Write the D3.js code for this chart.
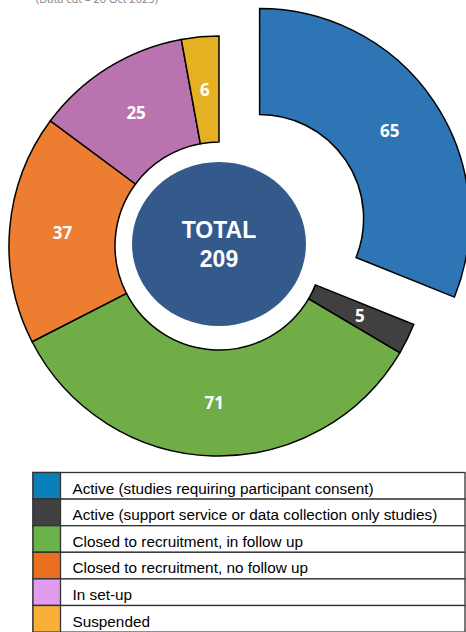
<!DOCTYPE html>
<html>
<head>
<meta charset="utf-8">
<script src="https://cdn.jsdelivr.net/npm/d3@7"></script>
<style>
  body { margin: 0; background: #fff; }
  svg { display: block; }
</style>
</head>
<body>
<script>
let categories = [
    'Active (studies requiring participant consent)',
    'Active (support service or data collection only studies)',
    'Closed to recruitment, in follow up',
    'Closed to recruitment, no follow up',
    'In set-up',
    'Suspended'
];
let values = [65, 5, 71, 37, 25, 6];
let sliceColors = ['#2E75B6', '#404040', '#70AD47', '#ED7D31', '#B973AE', '#E6B023'];
let legendColors = ['#0B7FBA', '#404040', '#6CB24A', '#E96F1F', '#E09DF0', '#FAAF3B'];
let subtitle = '(Data cut \u2013 20 Oct 2025)';
let centerLabel = ['TOTAL', '209'];

let w = 466;
let h = 632;
let cx = 219, cy = 246;
let innerR = 104, outerR = 210;
let explode = 49;

let svg = d3.select('body')
    .append('svg')
    .attr('width', w)
    .attr('height', h)

// subtitle sits half above the top edge, like the cropped original
svg.append('text')
    .text(subtitle)
    .attr('x', 97)
    .attr('y', 3)
    .style('text-anchor', 'middle')
    .style('font-family', 'Open Sans, sans-serif')
    .style('font-size', '11px')
    .style('fill', '#7f7f7f')

let pie = d3.pie().sort(null).value(d => d)
let arcs = pie(values)

let arc = d3.arc().innerRadius(innerR).outerRadius(outerR)

let donut = svg.append('g')
    .attr('transform', `translate(${cx},${cy})`)

let offset = (d, i) => {
    if (i !== 0) return [0, 0];
    let mid = (d.startAngle + d.endAngle) / 2;
    return [Math.sin(mid) * explode, -Math.cos(mid) * explode];
}

let slices = donut.selectAll('g.slice')
    .data(arcs)
    .enter()
    .append('g')
    .attr('class', 'slice')
    .attr('transform', (d, i) => `translate(${offset(d, i)})`)

slices.append('path')
    .attr('d', arc)
    .attr('fill', (d, i) => sliceColors[i])
    .attr('stroke', '#000')
    .attr('stroke-width', 1.5)
    .attr('stroke-linejoin', 'miter')

slices.append('text')
    .text(d => d.data)
    .attr('transform', d => `translate(${arc.centroid(d)})`)
    .attr('dy', '0.36em')
    .style('text-anchor', 'middle')
    .style('font-family', 'Open Sans, sans-serif')
    .style('font-weight', 'bold')
    .style('font-size', '17px')
    .style('fill', '#fff')

donut.append('ellipse')
    .attr('cx', 0)
    .attr('cy', -2)
    .attr('rx', 87)
    .attr('ry', 82)
    .attr('fill', '#335A8B')

donut.selectAll('text.total')
    .data(centerLabel)
    .enter()
    .append('text')
    .attr('class', 'total')
    .text(d => d)
    .attr('x', 0)
    .attr('y', (d, i) => -8 + i * 29)
    .style('text-anchor', 'middle')
    .style('font-family', 'Liberation Sans, Arial, sans-serif')
    .style('font-weight', 'bold')
    .style('font-size', '23px')
    .style('fill', '#fff')

// legend table
let lx = 33, ly = 472.5, rowH = 26.6, swW = 27.5, tableW = 432;

let rowScale = d3.scaleBand()
    .domain(categories)
    .range([ly, ly + rowH * categories.length])

let legend = svg.append('g')

let rows = legend.selectAll('g.row')
    .data(categories)
    .enter()
    .append('g')
    .attr('class', 'row')
    .attr('transform', d => `translate(${lx},${rowScale(d)})`)

rows.append('rect')
    .attr('width', tableW)
    .attr('height', rowScale.bandwidth())
    .attr('fill', '#fff')
    .attr('stroke', '#333')
    .attr('stroke-width', 1.3)

rows.append('rect')
    .attr('width', swW)
    .attr('height', rowScale.bandwidth())
    .attr('fill', (d, i) => legendColors[i])
    .attr('stroke', '#333')
    .attr('stroke-width', 1.3)

rows.append('text')
    .text(d => d)
    .attr('x', 39.5)
    .attr('y', rowScale.bandwidth() * 0.79)
    .style('font-family', 'Liberation Sans, Arial, sans-serif')
    .style('font-size', '15.3px')
    .style('fill', '#000')
</script>
</body>
</html>
